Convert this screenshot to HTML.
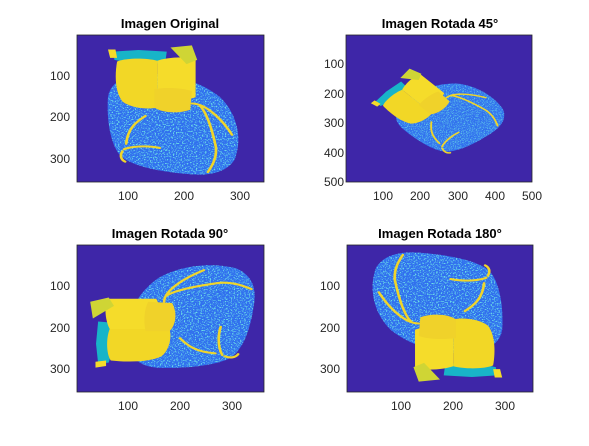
<!DOCTYPE html>
<html><head><meta charset="utf-8"><style>
body{margin:0;background:#fff;}
svg text{font-family:"Liberation Sans",sans-serif;}
</style></head><body>
<svg width="589" height="441" viewBox="0 0 589 441" xmlns="http://www.w3.org/2000/svg">
<defs>
<filter id="speck" x="0" y="0" width="100%" height="100%">
  <feTurbulence type="fractalNoise" baseFrequency="0.35" numOctaves="2" seed="3" result="n"/>
  <feColorMatrix in="n" type="matrix" values="0 0 0 0 0.15  0 0 0 0 0.75  0 0 0 0 0.8  0 0 0 6 -3.2"/>
  <feComposite in2="SourceGraphic" operator="in"/>
</filter>
<path id="bodyshape" d="M58,150 C62,120 80,100 120,95 C170,88 230,110 268,150 C300,190 310,250 295,300 C280,330 250,340 210,335 C160,330 110,318 85,295 C62,270 55,200 58,150 Z"/>
<g id="heart">
  <use href="#bodyshape" fill="#3170ee"/>
  <use href="#bodyshape" fill="#fff" filter="url(#speck)"/>
  <path d="M68,40 L115,36 L168,40 L165,68 L110,70 L70,60 Z" fill="#18b4c8"/>
  <path d="M75,64 C90,55 130,55 150,62 L150,175 C130,180 100,175 85,160 C72,140 70,100 75,64 Z" fill="#f2d726"/>
  <path d="M150,62 C165,55 200,50 222,58 L222,150 C200,160 170,158 150,150 Z" fill="#f5dc2a"/>
  <path d="M145,130 C170,125 200,128 215,135 L212,180 C190,190 160,188 145,175 Z" fill="#f0d22a"/>
  <path d="M175,30 L215,25 L225,60 L205,70 Z" fill="#cfd535"/>
  <path d="M58,35 L72,35 L75,55 L62,55 Z" fill="#f5dc2a"/>
  <g fill="none" stroke="#f0d52a" stroke-width="5" stroke-linecap="round">
    <path d="M128,195 C110,210 95,225 92,262"/>
    <path d="M88,275 C110,265 140,268 155,272"/>
    <path d="M230,170 C245,190 255,240 260,270 C262,300 250,320 245,330"/>
    <path d="M215,165 C240,165 270,200 290,240"/>
    <path d="M85,280 C80,290 82,300 90,305"/>
  </g>
</g>
<clipPath id="c1"><rect x="0" y="0" width="350" height="354"/></clipPath>
<clipPath id="c2"><rect x="0" y="0" width="500" height="500"/></clipPath>
</defs>

<g>
  <text x="170" y="28" text-anchor="middle" font-size="13" font-weight="bold">Imagen Original</text>
  <svg x="77" y="35" width="187" height="147" viewBox="0 0 350 354" preserveAspectRatio="none">
    <rect width="350" height="354" fill="#3e26a8"/>
    <g clip-path="url(#c1)"><use href="#heart"/></g>
  </svg>
  <rect x="77" y="35" width="187" height="147" fill="none" stroke="#262626" stroke-width="0.8"/>
  <g font-size="12" fill="#262626">
    <text x="70" y="80" text-anchor="end">100</text><text x="70" y="121" text-anchor="end">200</text><text x="70" y="163" text-anchor="end">300</text>
  </g>
  <g font-size="12" fill="#262626" text-anchor="middle">
    <text x="128" y="200">100</text><text x="184" y="200">200</text><text x="240" y="200">300</text>
  </g>
</g>

<g>
  <text x="440" y="28" text-anchor="middle" font-size="13" font-weight="bold">Imagen Rotada 45°</text>
  <svg x="346" y="35" width="186" height="147" viewBox="0 0 500 500" preserveAspectRatio="none">
    <rect width="500" height="500" fill="#3e26a8"/>
    <g clip-path="url(#c2)"><g transform="translate(75,73) rotate(-45 175 177)"><use href="#heart"/></g></g>
  </svg>
  <rect x="346" y="35" width="186" height="147" fill="none" stroke="#262626" stroke-width="0.8"/>
  <g font-size="12" fill="#262626">
    <text x="344" y="68" text-anchor="end">100</text><text x="344" y="98" text-anchor="end">200</text><text x="344" y="127" text-anchor="end">300</text><text x="344" y="157" text-anchor="end">400</text><text x="344" y="186" text-anchor="end">500</text>
  </g>
  <g font-size="12" fill="#262626" text-anchor="middle">
    <text x="383" y="200">100</text><text x="420" y="200">200</text><text x="458" y="200">300</text><text x="495" y="200">400</text><text x="532" y="200">500</text>
  </g>
</g>

<g>
  <text x="170" y="238" text-anchor="middle" font-size="13" font-weight="bold">Imagen Rotada 90°</text>
  <svg x="77" y="245" width="187" height="147" viewBox="0 0 354 350" preserveAspectRatio="none">
    <rect width="354" height="350" fill="#3e26a8"/>
    <g transform="translate(2,-2) rotate(-90 175 177)"><use href="#heart"/></g>
  </svg>
  <rect x="77" y="245" width="187" height="147" fill="none" stroke="#262626" stroke-width="0.8"/>
  <g font-size="12" fill="#262626">
    <text x="70" y="290" text-anchor="end">100</text><text x="70" y="332" text-anchor="end">200</text><text x="70" y="373" text-anchor="end">300</text>
  </g>
  <g font-size="12" fill="#262626" text-anchor="middle">
    <text x="128" y="410">100</text><text x="180" y="410">200</text><text x="232" y="410">300</text>
  </g>
</g>

<g>
  <text x="440" y="238" text-anchor="middle" font-size="13" font-weight="bold">Imagen Rotada 180°</text>
  <svg x="347" y="245" width="186" height="147" viewBox="0 0 350 354" preserveAspectRatio="none">
    <rect width="350" height="354" fill="#3e26a8"/>
    <g transform="rotate(180 175 177)"><use href="#heart"/></g>
  </svg>
  <rect x="347" y="245" width="186" height="147" fill="none" stroke="#262626" stroke-width="0.8"/>
  <g font-size="12" fill="#262626">
    <text x="340" y="290" text-anchor="end">100</text><text x="340" y="332" text-anchor="end">200</text><text x="340" y="373" text-anchor="end">300</text>
  </g>
  <g font-size="12" fill="#262626" text-anchor="middle">
    <text x="401" y="410">100</text><text x="453" y="410">200</text><text x="505" y="410">300</text>
  </g>
</g>
</svg>
</body></html>
